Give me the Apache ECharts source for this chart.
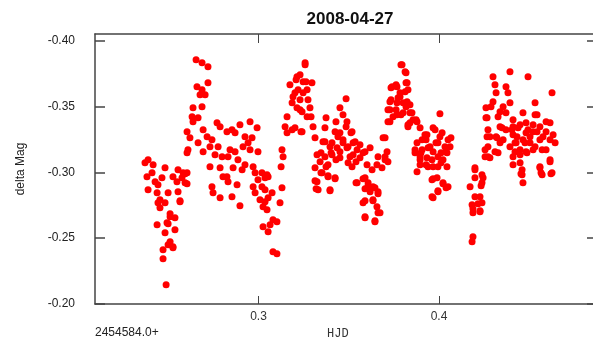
<!DOCTYPE html>
<html>
<head>
<meta charset="utf-8">
<script src="https://cdn.jsdelivr.net/npm/echarts@6/dist/echarts.min.js"></script>
<style>
  html, body { margin: 0; padding: 0; background: #fff; }
  #chart { width: 593px; height: 342px; }
</style>
</head>
<body>
<div id="chart"></div>
<script>
// HJD - 2454584.0 and delta Mag, one list per brightening cycle
var cycle1 = [
  [0.2371,-0.3073],[0.2654,-0.3856],[0.2687,-0.3833],[0.2720,-0.3802],[0.2659,-0.3650],[0.2687,-0.3628],[0.2720,-0.3681],
  [0.2704,-0.3590],[0.2676,-0.3590],[0.2637,-0.3491],[0.2687,-0.3498],[0.2632,-0.3422],[0.2665,-0.3415],[0.2637,-0.3384],
  [0.2604,-0.3308],[0.2620,-0.3263],[0.2609,-0.3172],[0.2604,-0.3149],[0.2665,-0.3225],[0.2693,-0.3324],[0.2715,-0.3270],
  [0.2742,-0.3248],[0.2770,-0.3377],[0.2787,-0.3346],[0.2731,-0.3194],[0.2693,-0.3156],[0.2776,-0.3194],[0.2759,-0.3134],
  [0.2798,-0.3118],[0.2731,-0.3042],[0.2787,-0.3035],[0.2803,-0.2966],[0.2742,-0.2890],[0.2748,-0.2845],[0.2787,-0.2807],
  [0.2388,-0.3096],[0.2416,-0.3058],[0.2382,-0.2966],[0.2410,-0.2997],[0.2427,-0.2928],[0.2388,-0.2868],[0.2443,-0.2906],
  [0.2465,-0.2959],[0.2482,-0.3035],[0.2438,-0.2845],[0.2454,-0.2792],[0.2443,-0.2769],[0.2482,-0.2769],[0.2454,-0.2731],
  [0.2499,-0.2845],[0.2526,-0.2966],[0.2554,-0.3020],[0.2582,-0.2997],[0.2604,-0.2997],[0.2576,-0.2959],[0.2593,-0.2921],
  [0.2548,-0.2928],[0.2554,-0.2852],[0.2565,-0.2776],[0.2510,-0.2662],[0.2537,-0.2655],[0.2438,-0.2602],[0.2493,-0.2617],
  [0.2537,-0.2564],[0.2482,-0.2541],[0.2510,-0.2472],[0.2526,-0.2434],[0.2499,-0.2450],[0.2471,-0.2412],[0.2471,-0.2343],
  [0.2488,-0.2146],[0.2510,-0.2685],[0.2499,-0.2609],[0.2565,-0.2784],[0.2604,-0.2913],[0.2593,-0.2989],[0.2526,-0.2427]
];
var cycle2 = [
  [0.2897,-0.3362],[0.2953,-0.3384],[0.2992,-0.3339],[0.2853,-0.3324],[0.2870,-0.3301],[0.2825,-0.3308],[0.2925,-0.3270],
  [0.2964,-0.3263],[0.2942,-0.3225],[0.2914,-0.3194],[0.2953,-0.3172],[0.2997,-0.3156],[0.2842,-0.3172],[0.2870,-0.3156],
  [0.2831,-0.3118],[0.2886,-0.3096],[0.2925,-0.3058],[0.2859,-0.3035],[0.2909,-0.3020],[0.2970,-0.3042],[0.2981,-0.2997],
  [0.3019,-0.2997],[0.3047,-0.2982],[0.2997,-0.2944],[0.3036,-0.2959],[0.3053,-0.2966],[0.2825,-0.2966],[0.2831,-0.2928],
  [0.2881,-0.2906],[0.2970,-0.2890],[0.2981,-0.2845],[0.3019,-0.2890],[0.3036,-0.2868],[0.3075,-0.2845],[0.3008,-0.2792],
  [0.3036,-0.2776],[0.3053,-0.2807],[0.3025,-0.2738],[0.3047,-0.2716],[0.2853,-0.2814],[0.2897,-0.2746],[0.3080,-0.2640],
  [0.3102,-0.2624],[0.3064,-0.2602],[0.3025,-0.2586],[0.3053,-0.2548],[0.3080,-0.2396],[0.3102,-0.2381],[0.3119,-0.2769],
  [0.3130,-0.2883],[0.3130,-0.3172],[0.3136,-0.3118],[0.3125,-0.3042],[0.3147,-0.3346],[0.3158,-0.3301],[0.3158,-0.3422],
  [0.3186,-0.3529],[0.3174,-0.3666],[0.3213,-0.3726],[0.3258,-0.3818],[0.3247,-0.3688],[0.3269,-0.3628],[0.3191,-0.3574],
  [0.3213,-0.3491],[0.3241,-0.3460],[0.3269,-0.3422],[0.3241,-0.3308],[0.3186,-0.3324],[0.3202,-0.3605],[0.3230,-0.3552],
  [0.3258,-0.3833],[0.3230,-0.3742],[0.3208,-0.3704],[0.3263,-0.3688],[0.3219,-0.3628],[0.3247,-0.3605],[0.3274,-0.3552],
  [0.3285,-0.3491],[0.3291,-0.3422],[0.3230,-0.3476],[0.3202,-0.3339],[0.3302,-0.3346],[0.3235,-0.3308],[0.3313,-0.3263],
  [0.3296,-0.3681]
];
var cycle3 = [
  [0.3374,-0.3415],[0.3368,-0.3339],[0.3451,-0.3491],[0.3485,-0.3559],[0.3429,-0.3384],[0.3468,-0.3438],[0.3424,-0.3308],
  [0.3451,-0.3301],[0.3485,-0.3346],[0.3512,-0.3301],[0.3368,-0.3232],[0.3396,-0.3194],[0.3468,-0.3225],[0.3496,-0.3194],
  [0.3535,-0.3232],[0.3562,-0.3210],[0.3618,-0.3187],[0.3590,-0.3156],[0.3524,-0.3134],[0.3451,-0.3156],[0.3402,-0.3149],
  [0.3346,-0.3149],[0.3341,-0.3080],[0.3374,-0.3042],[0.3429,-0.3096],[0.3496,-0.3073],[0.3540,-0.3080],[0.3690,-0.3263],
  [0.3701,-0.3118],[0.3662,-0.3118],[0.3717,-0.3080],[0.3740,-0.3650],[0.3728,-0.3536],[0.3717,-0.3476],[0.3728,-0.3384],
  [0.3701,-0.3263],[0.3712,-0.3156],[0.3701,-0.3096],[0.3684,-0.3035],[0.3656,-0.3058],[0.3490,-0.3384],
  [0.3518,-0.3308],[0.3440,-0.3270],[0.3468,-0.3248],[0.3357,-0.3232],[0.3407,-0.3225],[0.3524,-0.3225],[0.3435,-0.3187],
  [0.3490,-0.3187],[0.3546,-0.3172],[0.3579,-0.3149],[0.3324,-0.3134],[0.3368,-0.3118],[0.3407,-0.3134],[0.3451,-0.3111],
  [0.3507,-0.3118],[0.3562,-0.3111],[0.3601,-0.3058],[0.3629,-0.3020],[0.3518,-0.3042],[0.3385,-0.3058],[0.3313,-0.3035],
  [0.3352,-0.2997],[0.3385,-0.2966],[0.3424,-0.2959],[0.3324,-0.2928],[0.3330,-0.2868],[0.3396,-0.2868],[0.3546,-0.2921],
  [0.3590,-0.2959],[0.3607,-0.2921],[0.3634,-0.2890],[0.3662,-0.2852],[0.3618,-0.2852],[0.3579,-0.2769],[0.3634,-0.2792],
  [0.3656,-0.2738],[0.3662,-0.2693],[0.3590,-0.2662],[0.3645,-0.2624],[0.3313,-0.2936],[0.3319,-0.2875],[0.3396,-0.2860],
  [0.3424,-0.2951],[0.3385,-0.2974],[0.3346,-0.2997],[0.3540,-0.2921],[0.3579,-0.2951],[0.3590,-0.2875],[0.3607,-0.2898],
  [0.3645,-0.2883],[0.3662,-0.2837],[0.3590,-0.2784],[0.3634,-0.2784],[0.3673,-0.2693],[0.3590,-0.2655],[0.3645,-0.2632]
];
var cycle4 = [
  [0.3789,-0.3818],[0.3817,-0.3757],[0.3734,-0.3643],[0.3762,-0.3666],[0.3817,-0.3681],[0.3784,-0.3605],[0.3828,-0.3628],
  [0.3734,-0.3552],[0.3773,-0.3567],[0.3801,-0.3529],[0.3728,-0.3476],[0.3762,-0.3476],[0.3817,-0.3498],[0.3839,-0.3453],
  [0.3745,-0.3422],[0.3789,-0.3438],[0.3717,-0.3384],[0.3839,-0.3377],[0.3873,-0.3400],[0.3828,-0.3346],[0.3895,-0.3339],
  [0.4005,-0.3445],[0.3922,-0.3286],[0.3967,-0.3339],[0.3983,-0.3225],[0.3928,-0.3248],[0.3950,-0.3194],[0.4005,-0.3270],
  [0.4050,-0.3248],[0.4066,-0.3263],[0.4061,-0.3194],[0.4039,-0.3156],[0.4011,-0.3149],[0.3967,-0.3156],[0.3900,-0.3149],
  [0.3867,-0.3149],[0.3895,-0.3096],[0.3928,-0.3058],[0.3967,-0.3042],[0.4011,-0.3073],[0.3967,-0.2951],[0.3994,-0.2860],
  [0.3967,-0.2807],[0.4022,-0.2913],[0.4039,-0.2883],[0.3795,-0.3818],[0.3812,-0.3764],[0.3823,-0.3681],[0.3767,-0.3650],
  [0.3812,-0.3612],[0.3784,-0.3574],[0.3767,-0.3529],[0.3823,-0.3536],[0.3839,-0.3514],[0.3767,-0.3438],[0.3801,-0.3453],
  [0.3850,-0.3453],[0.3856,-0.3400],[0.3828,-0.3362],[0.3878,-0.3384],[0.3978,-0.3324],[0.4017,-0.3301],[0.3933,-0.3286],
  [0.3906,-0.3248],[0.3878,-0.3225],[0.3994,-0.3225],[0.3867,-0.3172],[0.3906,-0.3172],[0.3939,-0.3187],
  [0.4033,-0.3194],[0.4044,-0.3149],[0.3994,-0.3118],[0.3895,-0.3118],[0.3933,-0.3111],[0.3961,-0.3096],[0.4022,-0.3096],
  [0.4044,-0.3042],[0.3895,-0.3058],[0.3939,-0.3042],[0.3994,-0.3042],[0.3878,-0.3004],[0.3961,-0.2944],[0.3989,-0.2959],
  [0.4022,-0.2921],[0.4050,-0.2890],[0.3994,-0.2852],[0.3961,-0.2814],[0.4199,-0.3020],[0.4199,-0.2959],[0.4172,-0.2890],
  [0.4199,-0.2814],[0.4183,-0.2754],[0.4188,-0.2693],[0.4183,-0.2472],[0.4188,-0.2510],[0.4244,-0.2959],[0.4233,-0.2898],
  [0.4216,-0.2761],[0.4227,-0.2708],[0.4188,-0.2723]
];
var cycle5 = [
  [0.4299,-0.3726],[0.4310,-0.3666],[0.4393,-0.3764],[0.4493,-0.3726],[0.4371,-0.3650],[0.4382,-0.3605],[0.4316,-0.3605],
  [0.4299,-0.3536],[0.4260,-0.3491],[0.4288,-0.3498],[0.4355,-0.3498],[0.4393,-0.3529],[0.4532,-0.3529],[0.4626,-0.3605],
  [0.4260,-0.3415],[0.4327,-0.3422],[0.4371,-0.3453],[0.4410,-0.3400],[0.4465,-0.3453],[0.4532,-0.3438],[0.4593,-0.3384],
  [0.4271,-0.3324],[0.4338,-0.3346],[0.4371,-0.3324],[0.4410,-0.3346],[0.4449,-0.3362],[0.4482,-0.3377],[0.4521,-0.3362],
  [0.4559,-0.3346],[0.4615,-0.3377],[0.4282,-0.3270],[0.4316,-0.3270],[0.4355,-0.3248],[0.4410,-0.3286],[0.4482,-0.3301],
  [0.4521,-0.3308],[0.4593,-0.3308],[0.4632,-0.3286],[0.4643,-0.3225],[0.4271,-0.3194],[0.4327,-0.3149],[0.4393,-0.3194],
  [0.4427,-0.3225],[0.4465,-0.3248],[0.4504,-0.3225],[0.4559,-0.3248],[0.4615,-0.3248],[0.4255,-0.3118],[0.4282,-0.3111],
  [0.4421,-0.3156],[0.4449,-0.3134],[0.4482,-0.3156],[0.4521,-0.3172],[0.4593,-0.3172],[0.4199,-0.3035],[0.4449,-0.3073],
  [0.4559,-0.3042],[0.4615,-0.3080],[0.4454,-0.2989],[0.4465,-0.2921],[0.4565,-0.2997],[0.4620,-0.2989],[0.4338,-0.3460],
  [0.4266,-0.3415],[0.4543,-0.3438],[0.4349,-0.3339],[0.4404,-0.3324],[0.4438,-0.3339],[0.4493,-0.3324],[0.4543,-0.3308],
  [0.4266,-0.3270],[0.4321,-0.3263],[0.4432,-0.3270],[0.4504,-0.3270],[0.4576,-0.3270],[0.4338,-0.3225],[0.4421,-0.3225],
  [0.4476,-0.3225],[0.4532,-0.3194],[0.4255,-0.3172],[0.4310,-0.3156],[0.4449,-0.3172],[0.4571,-0.3172],[0.4271,-0.3118],
  [0.4487,-0.3149],[0.4410,-0.3118],[0.4410,-0.3058],[0.4460,-0.3020],[0.4559,-0.3035],[0.4571,-0.2982],[0.4626,-0.2997],
  [0.4615,-0.3096],[0.4460,-0.2982],[0.4238,-0.2982],[0.4238,-0.2921],[0.4227,-0.2814],[0.4238,-0.2769],[0.4227,-0.2700]
];

var xTicks = [0.3, 0.4];
var yTicks = [-0.40, -0.35, -0.30, -0.25, -0.20];
var xRange = [0.2094, 0.4853];
var yRange = [-0.4051, -0.2000];

var chart = echarts.init(document.getElementById('chart'));
var axisCol = '#444';

chart.setOption({
  backgroundColor: '#fff',
  animation: false,
  title: {
    text: '2008-04-27',
    left: 345,
    top: 6,
    textAlign: 'center',
    textStyle: { fontFamily: 'Liberation Sans', fontWeight: 'bold', fontSize: 17, color: '#111' }
  },
  grid: { left: 95, right: 0, top: 34, bottom: 38, outerBoundsMode: 'none' },
  xAxis: [{
    type: 'value', position: 'bottom', min: xRange[0], max: xRange[1],
    axisLine: { lineStyle: { color: axisCol, width: 1.5 } },
    axisTick: { inside: true, length: 8, customValues: xTicks, lineStyle: { color: axisCol } },
    axisLabel: { customValues: xTicks, margin: 7, fontFamily: 'Liberation Sans', fontSize: 12, color: '#333',
      formatter: function (v) { return v.toFixed(1); } },
    splitLine: { show: false }
  }, {
    type: 'value', position: 'top', min: xRange[0], max: xRange[1],
    axisLine: { lineStyle: { color: axisCol, width: 1.5 } },
    axisTick: { inside: true, length: 9, customValues: xTicks, lineStyle: { color: axisCol } },
    axisLabel: { show: false },
    splitLine: { show: false }
  }],
  yAxis: [{
    type: 'value', position: 'left', inverse: true, min: yRange[0], max: yRange[1],
    name: 'delta Mag', nameLocation: 'middle', nameGap: 68, nameRotate: 90,
    nameTextStyle: { fontFamily: 'Liberation Sans', fontSize: 12, color: '#222' },
    axisLine: { lineStyle: { color: axisCol, width: 1.5 } },
    axisTick: { inside: true, length: 10, customValues: yTicks, lineStyle: { color: axisCol, width: 1.5 } },
    axisLabel: { customValues: yTicks, margin: 20, fontFamily: 'Liberation Sans', fontSize: 12, color: '#222',
      formatter: function (v) { return v.toFixed(2); } },
    splitLine: { show: false }
  }, {
    type: 'value', position: 'right', inverse: true, min: yRange[0], max: yRange[1],
    axisLine: { show: false },
    axisTick: { show: true, inside: true, length: 6, customValues: yTicks, lineStyle: { color: axisCol, width: 1.5 } },
    axisLabel: { show: false },
    splitLine: { show: false }
  }],
  graphic: [{
    type: 'text', left: 95, top: 327,
    style: { text: '2454584.0+', font: '12px "Liberation Sans"', fill: '#222' }
  }, {
    type: 'text', left: 327, top: 328,
    style: { text: 'HJD', font: '12px "Liberation Mono"', fill: '#333' }
  }],
  series: [{
    type: 'scatter',
    symbol: 'circle',
    symbolSize: 7,
    itemStyle: { color: '#ff0000', opacity: 1 },
    data: [].concat(cycle1, cycle2, cycle3, cycle4, cycle5)
  }]
});
</script>
</body>
</html>
